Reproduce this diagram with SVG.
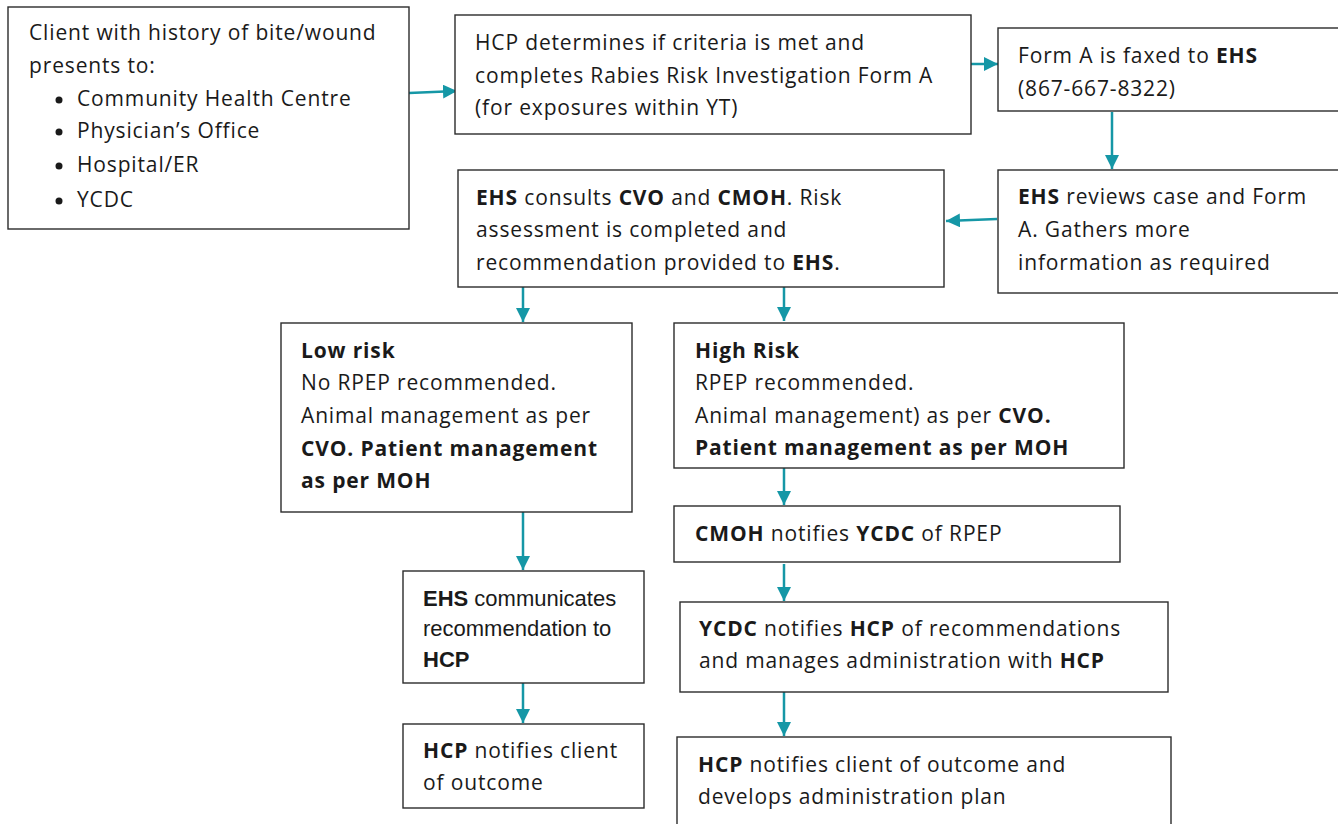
<svg xmlns="http://www.w3.org/2000/svg" width="1338" height="824" viewBox="0 0 1338 824">
<style>
.box{fill:#fff;stroke:#2b2b2b;stroke-width:1.4}
.t{font-family:"Open Sans","Noto Sans",sans-serif;font-size:21px;letter-spacing:0.85px;fill:#1a1a1a}
.n{font-family:"Liberation Sans",Arial,sans-serif;font-size:22px;fill:#1a1a1a}
.b{font-weight:bold}
.c{stroke:#1597a6;stroke-width:2.5;fill:none;marker-end:url(#ah)}
</style>
<defs>
<marker id="ah" markerUnits="userSpaceOnUse" markerWidth="16" markerHeight="16" refX="14" refY="7" orient="auto">
<path d="M0,0 L14,7 L0,14 Z" fill="#1597a6"/>
</marker>
</defs>
<rect width="1338" height="824" fill="#fff"/>

<g id="connectors">
<path class="c" d="M409,93 L457,91"/>
<path class="c" d="M971,64 L998,64"/>
<path class="c" d="M1112,112 L1112,169"/>
<path class="c" d="M997,219 L946,221"/>
<path class="c" d="M523,287 L523,322"/>
<path class="c" d="M784,287 L784,321"/>
<path class="c" d="M784,468 L784,505"/>
<path class="c" d="M784,564 L784,601"/>
<path class="c" d="M784,692 L784,736"/>
<path class="c" d="M523,512 L523,570"/>
<path class="c" d="M523,683 L523,723"/>
</g>

<g id="client">
<rect class="box" x="8" y="7" width="401" height="222"/>
<text class="t" x="29" y="40">Client with history of bite/wound</text>
<text class="t" x="29" y="73">presents to:</text>
<circle cx="59" cy="100" r="3.5" fill="#1a1a1a"/>
<text class="t" x="77" y="106">Community Health Centre</text>
<circle cx="59" cy="132" r="3.5" fill="#1a1a1a"/>
<text class="t" x="77" y="138">Physician’s Office</text>
<circle cx="59" cy="166" r="3.5" fill="#1a1a1a"/>
<text class="t" x="77" y="172">Hospital/ER</text>
<circle cx="59" cy="201" r="3.5" fill="#1a1a1a"/>
<text class="t" x="77" y="207">YCDC</text>
</g>

<g id="hcp-determines">
<rect class="box" x="455" y="15" width="516" height="119"/>
<text class="t" x="475" y="50">HCP determines if criteria is met and</text>
<text class="t" x="475" y="83">completes Rabies Risk Investigation Form A</text>
<text class="t" x="475" y="115">(for exposures within YT)</text>
</g>

<g id="form-a">
<rect class="box" x="998" y="28" width="345" height="83"/>
<text class="t" x="1018" y="63">Form A is faxed to <tspan class="b">EHS</tspan></text>
<text class="t" x="1018" y="96">(867-667-8322)</text>
</g>

<g id="ehs-reviews">
<rect class="box" x="998" y="170" width="345" height="123"/>
<text class="t" x="1018" y="204"><tspan class="b">EHS</tspan> reviews case and Form</text>
<text class="t" x="1018" y="237">A. Gathers more</text>
<text class="t" x="1018" y="270">information as required</text>
</g>

<g id="ehs-consults">
<rect class="box" x="458" y="170" width="486" height="117"/>
<text class="t" x="476" y="205"><tspan class="b">EHS</tspan> consults <tspan class="b">CVO</tspan> and <tspan class="b">CMOH</tspan>. Risk</text>
<text class="t" x="476" y="237">assessment is completed and</text>
<text class="t" x="476" y="270">recommendation provided to <tspan class="b">EHS</tspan>.</text>
</g>

<g id="low-risk">
<rect class="box" x="281" y="323" width="351" height="189"/>
<text class="t b" x="301" y="358">Low risk</text>
<text class="t" x="301" y="390">No RPEP recommended.</text>
<text class="t" x="301" y="423">Animal management as per</text>
<text class="t b" x="301" y="456">CVO. Patient management</text>
<text class="t b" x="301" y="488">as per MOH</text>
</g>

<g id="high-risk">
<rect class="box" x="674" y="323" width="450" height="145"/>
<text class="t b" x="695" y="358">High Risk</text>
<text class="t" x="695" y="390">RPEP recommended.</text>
<text class="t" x="695" y="423">Animal management) as per <tspan class="b">CVO.</tspan></text>
<text class="t b" x="695" y="455">Patient management as per MOH</text>
</g>

<g id="cmoh">
<rect class="box" x="674" y="506" width="446" height="56"/>
<text class="t" x="695" y="541"><tspan class="b">CMOH</tspan> notifies <tspan class="b">YCDC</tspan> of RPEP</text>
</g>

<g id="ycdc">
<rect class="box" x="680" y="602" width="488" height="90"/>
<text class="t" x="699" y="636"><tspan class="b">YCDC</tspan> notifies <tspan class="b">HCP</tspan> of recommendations</text>
<text class="t" x="699" y="668">and manages administration with <tspan class="b">HCP</tspan></text>
</g>

<g id="ehs-communicates">
<rect class="box" x="403" y="571" width="241" height="112"/>
<text class="n" x="423" y="606"><tspan class="b">EHS</tspan> communicates</text>
<text class="n" x="423" y="636">recommendation to</text>
<text class="n b" x="423" y="667">HCP</text>
</g>

<g id="hcp-notifies-low">
<rect class="box" x="403" y="724" width="241" height="84"/>
<text class="t" x="423" y="758"><tspan class="b">HCP</tspan> notifies client</text>
<text class="t" x="423" y="790">of outcome</text>
</g>

<g id="hcp-notifies-high">
<rect class="box" x="677" y="737" width="494" height="100"/>
<text class="t" x="698" y="772"><tspan class="b">HCP</tspan> notifies client of outcome and</text>
<text class="t" x="698" y="804">develops administration plan</text>
</g>
</svg>
